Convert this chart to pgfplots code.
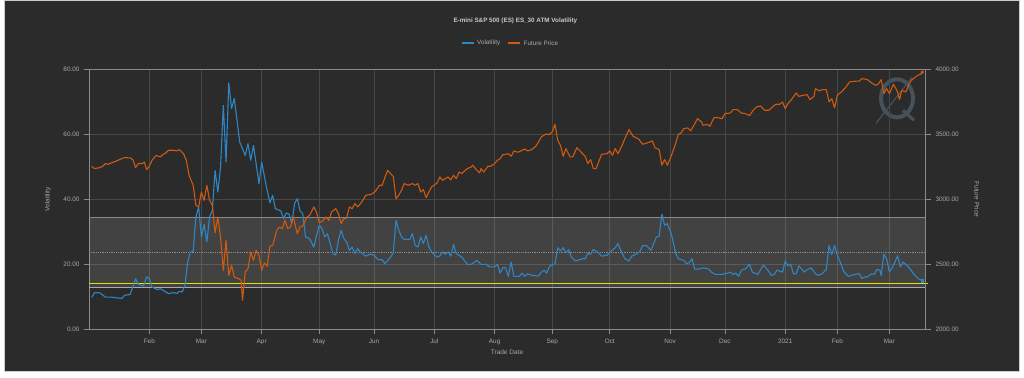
\documentclass[border=0pt]{standalone}
\usepackage{pgfplots}
\pgfplotsset{compat=1.18}
\usepackage{fontspec}
\setmainfont{Liberation Sans}
\definecolor{bgc}{HTML}{2B2B2B}
\definecolor{gridc}{HTML}{474747}
\definecolor{framec}{HTML}{8A8A8A}
\definecolor{labc}{HTML}{A8A8A8}
\definecolor{titc}{HTML}{C8C8C8}
\definecolor{volc}{HTML}{2F86C4}
\definecolor{pricec}{HTML}{D05A0E}
\definecolor{yelc}{HTML}{E2E200}
\definecolor{logoc}{HTML}{45525C}
\begin{document}
\begin{tikzpicture}
\fill[white] (0,0) rectangle (1024pt,377pt);
\fill[bgc] (4pt,6pt) rectangle (1019pt,377pt);
\draw[gray!40, line width=0.6pt] (4pt,6pt) rectangle (1019pt,377pt);
% watermark logo
\draw[logoc, line width=4pt] (897pt,279pt) ellipse (16pt and 19pt);
\draw[logoc, line width=3pt] (903pt,267pt) -- (914pt,257pt);
\draw[logoc, line width=1.2pt] (876pt,254pt) -- (912pt,300pt);
% legend
\fill[volc] (462pt,333pt) rectangle (474pt,335pt);
\node[anchor=west, inner sep=0pt, text=labc, font=\fontsize{6.3}{7}\selectfont] at (477pt,334pt) {Volatility};
\fill[pricec] (508pt,333pt) rectangle (520pt,335pt);
\node[anchor=west, inner sep=0pt, text=labc, font=\fontsize{6.3}{7}\selectfont] at (523.5pt,334pt) {Future Price};
\begin{axis}[
  at={(89pt,48pt)}, anchor=south west, scale only axis,
  width=836pt, height=260pt,
  xmin=-1, xmax=304, ymin=0, ymax=80,
  axis line style={draw=framec, line width=0.7pt},
  xtick={21,40,62,83,103,125,147,168,189,211,231,253,272,291},
  xticklabels={Feb,Mar,Apr,May,Jun,Jul,Aug,Sep,Oct,Nov,Dec,2021,Feb,Mar},
  ytick={0,20,40,60,80},
  xtick pos=bottom, ytick pos=left,
  /pgf/number format/fixed, /pgf/number format/fixed zerofill,
  /pgf/number format/precision=2, /pgf/number format/assume math mode=true,
  tick label style={font=\fontsize{6.4}{7}\selectfont, text=labc},
  yticklabel style={xshift=-1pt},
  xticklabel style={yshift=-1pt},
  grid=major, major grid style={gridc, line width=0.7pt},
  major tick length=5pt, tick align=outside, tick style={framec, line width=0.7pt},
  xlabel={Trade Date}, ylabel={Volatility},
  label style={font=\fontsize{6.5}{7}\selectfont, text=labc},
  xlabel style={at={(axis description cs:0.5,-0.088)}, anchor=center},
  ylabel style={at={(axis description cs:-0.049,0.5)}, anchor=center},
  title={\bfseries E-mini S\&P 500 (ES) ES\_30 ATM Volatility},
  title style={at={(axis description cs:0.51,1.165)}, anchor=center, font=\fontsize{6.3}{7}\selectfont, text=titc},
  clip=false,
]
\addplot[draw=none, fill=white, fill opacity=0.11] coordinates {(-1,12.9) (304,12.9) (304,34.4) (-1,34.4)} -- cycle;
\addplot[color=white!45!bgc, line width=0.8pt] coordinates {(-1,34.4) (304,34.4)};
\addplot[color=white!45!bgc, line width=0.8pt, densely dotted] coordinates {(-1,23.6) (304,23.6)};
\addplot[color=white!60!bgc, line width=0.8pt] coordinates {(-1,12.9) (304,12.9)};
\addplot[color=yelc, line width=1.1pt] coordinates {(-1,14.15) (305,14.15)};
\addplot[draw=volc, line width=1.1pt, line join=round] coordinates {
(0,9.8)(1,11.3)(3,11.2)(5,9.9)(7,9.9)(11,9.5)(12,10.5)(14,10.7)(16,15.6)(17,13.8)(19,13.4)(20,16.1)(21,15.6)(22,13.0)(24,12.2)(25,12.5)(26,12.0)(28,11.0)(30,11.3)(31,11.0)(32,11.7)(33,11.5)(34,13.5)(35,20.7)(36,23.8)(37,24.0)(38,34.6)(39,37.6)(40,28.4)(41,32.3)(42,26.9)(43,34.6)(44,36.6)(45,48.9)(46,42.2)(47,49.9)(48,68.9)(49,51.5)(50,75.8)(51,67.9)(52,71.0)(54,57.6)(56,53.5)(57,57.1)(58,52.0)(59,56.6)(60.5,47.9)(61,44.8)(62,51.5)(63.5,44.8)(65,38.9)(66,41.2)(67,37.1)(69,36.4)(70,34.1)(71,35.8)(72,35.4)(73,32.5)(74,38.7)(75,40.2)(76,36.4)(77,35.6)(78,28.4)(79.5,27.9)(81,25.3)(83,32.0)(84,31.0)(85,28.4)(86,29.4)(88,23.3)(89,22.8)(90,27.4)(91,30.5)(92,27.9)(93,26.9)(94,24.3)(95,25.3)(96,23.3)(97,24.8)(98,23.8)(100,22.5)(101.5,23.1)(103,22.8)(104.5,21.4)(106,21.4)(107,20.2)(109,22.2)(110,23.5)(111,33.5)(112,30.5)(113,28.4)(114,27.7)(116,27.6)(117,29.4)(118,25.8)(119,25.3)(120,28.4)(121,26.4)(122,28.9)(123,25.3)(124,23.8)(126,22.2)(127,22.6)(128,23.8)(129,23.1)(130,23.8)(131,22.5)(132,26.1)(133,23.3)(135,22.2)(137,20.0)(138.5,20.0)(140.5,21.2)(142,20.0)(144,20.0)(145,19.2)(147,19.2)(148,20.0)(149,17.3)(150,19.0)(151,18.9)(152,16.3)(153,20.7)(154,16.3)(156,16.3)(157,17.3)(158,16.3)(159,17.1)(160.5,16.6)(163,16.4)(164,17.6)(165,18.2)(166,17.3)(167,19.4)(169,20.2)(170,25.1)(171,24.1)(172,25.1)(173,23.5)(174,24.5)(175,22.2)(176.5,21.0)(178,21.4)(179,21.7)(180,21.7)(181,23.3)(182,23.1)(183,24.6)(185,23.5)(186,22.5)(188,22.8)(189.5,24.1)(191,25.1)(192,26.4)(193,24.3)(194.5,21.7)(196,21.0)(197,22.5)(199,23.3)(200,24.0)(201,25.8)(202.5,25.7)(204,24.3)(206,28.4)(207,28.6)(208,35.4)(209,32.0)(210,32.5)(211.5,29.2)(213,23.5)(214,21.7)(216,21.2)(217,20.2)(218,20.5)(219,21.7)(220,18.5)(222,18.6)(223,18.9)(225,18.6)(226,17.6)(227.5,16.9)(229,16.9)(230,16.9)(232,17.3)(233,17.6)(234,16.9)(235,17.3)(236,16.3)(237,18.2)(238.5,18.6)(240,20.0)(241,17.6)(243,16.9)(245,19.7)(246,18.9)(248,16.6)(249,16.9)(250,18.2)(252,17.6)(253,21.0)(254,19.5)(255,20.0)(256,17.1)(257,17.1)(258,19.5)(260,17.6)(261,18.4)(262.5,18.9)(264,17.1)(265,16.6)(266.5,17.1)(268,18.4)(269,25.8)(270,23.0)(271,25.8)(272,22.8)(273.5,19.7)(274.5,17.6)(276,16.3)(278.5,16.9)(280,17.1)(281,15.6)(282,16.1)(283,16.1)(284.5,17.1)(285.5,16.9)(286.5,18.4)(287.5,18.2)(288,16.6)(289,23.1)(290,21.7)(291,17.6)(292.5,19.7)(294,22.6)(295,19.2)(296,20.7)(298,19.2)(300,16.9)(301.5,15.6)(303,15.0)
};
\addplot[color=volc, only marks, mark=square*, mark size=1.3pt] coordinates {(303,15.0)};
\end{axis}
\begin{axis}[
  at={(89pt,48pt)}, anchor=south west, scale only axis,
  width=836pt, height=260pt,
  xmin=-1, xmax=304, ymin=2000, ymax=4000,
  axis x line=none, axis y line*=right,
  axis line style={draw=framec, line width=0.7pt},
  ytick={2000,2500,3000,3500,4000},
  /pgf/number format/fixed, /pgf/number format/fixed zerofill,
  /pgf/number format/precision=2, /pgf/number format/1000 sep={},
  /pgf/number format/assume math mode=true,
  tick label style={font=\fontsize{6.4}{7}\selectfont, text=labc},
  yticklabel style={xshift=1pt},
  major tick length=6pt, tick align=outside, tick style={framec, line width=0.7pt},
  ylabel={Future Price},
  label style={font=\fontsize{6.5}{7}\selectfont, text=labc},
  ylabel style={at={(axis description cs:1.0622,0.5)}, anchor=center, rotate=180},
  clip=false,
]
\addplot[color=pricec, line width=1.1pt, line join=round] coordinates {
(0,3254)(1,3236)(3,3244)(4,3254)(5,3275)(6,3269)(8,3287)(9,3295)(11,3313)(12,3321)(14,3318)(15,3305)(16,3244)(17,3275)(18.5,3275)(19.2,3287)(20,3228)(21,3254)(22,3300)(23.5,3338)(25,3326)(26,3346)(27,3356)(28,3377)(30,3377)(31,3372)(32,3382)(33.5,3351)(34.5,3300)(35.5,3185)(37,3108)(38,2954)(39,2941)(40,3056)(41,2992)(42,3108)(43,2992)(44,2954)(45,2741)(46,2864)(47,2710)(48,2454)(49,2685)(50,2415)(51,2492)(52,2402)(53.5,2390)(54.5,2377)(55,2223)(56,2441)(57,2467)(58,2595)(59,2531)(60,2608)(61,2569)(62,2454)(63,2510)(64,2485)(65,2638)(66,2646)(67.5,2762)(68.5,2787)(69.5,2774)(70.5,2838)(71.5,2774)(72.5,2787)(73.5,2864)(75,2736)(76,2787)(77,2795)(78.5,2864)(79.5,2877)(81,2941)(82,2903)(83,2818)(84.5,2838)(85.5,2864)(86.5,2838)(87.5,2903)(89,2928)(90,2890)(91,2813)(92,2851)(93,2856)(94,2941)(95,2928)(96,2967)(97,2941)(98.5,2979)(100,3031)(102,3038)(103.5,3062)(105,3108)(106,3108)(107,3172)(108,3223)(109,3198)(110,3177)(111,3005)(112,3031)(113,3069)(114,3121)(115.5,3108)(117,3121)(118,3108)(119,3121)(120,3056)(121,3074)(122,3013)(123,3056)(124,3095)(126,3126)(127,3172)(128,3146)(129,3159)(130,3172)(131,3149)(132,3185)(133,3159)(134,3210)(135,3198)(137,3236)(138.5,3249)(139,3262)(140.5,3223)(141.5,3203)(142,3236)(143,3210)(144.5,3254)(145.5,3254)(147,3275)(148,3300)(149,3313)(150,3344)(151,3346)(152,3351)(153,3331)(154,3372)(155.5,3362)(157,3377)(158,3387)(159,3372)(160.5,3382)(162,3408)(163,3441)(164,3479)(165.5,3500)(167,3500)(168,3518)(169,3577)(170,3454)(171,3415)(172,3331)(173,3390)(174.5,3326)(175.5,3326)(177,3397)(178.5,3364)(180,3331)(181,3275)(182,3305)(183,3236)(184,3236)(186,3346)(188,3351)(189,3372)(190,3338)(191,3390)(192,3351)(193.5,3415)(194.5,3467)(196,3536)(197.5,3485)(199.5,3464)(201,3423)(202.5,3433)(204.5,3449)(205.5,3397)(207,3382)(208,3262)(209,3305)(210,3262)(211.5,3338)(213,3428)(214,3500)(215,3510)(216,3544)(217.5,3549)(218.5,3526)(220,3582)(221,3620)(222.5,3595)(223,3569)(224.5,3577)(225.5,3562)(227,3628)(228.5,3628)(230,3620)(231,3659)(233,3664)(234,3690)(235.5,3690)(237,3664)(238.5,3659)(240,3644)(241.5,3690)(242.5,3710)(244,3718)(245.5,3685)(247,3685)(248,3703)(249.5,3731)(251,3731)(252,3749)(253,3697)(254,3736)(255.5,3774)(257,3818)(258,3792)(259.5,3800)(261,3805)(262,3767)(263.5,3792)(264,3851)(265.5,3833)(266.5,3844)(268,3844)(269,3749)(270,3774)(271,3703)(272,3800)(273.5,3826)(275,3859)(276.5,3903)(278.5,3908)(280,3910)(281,3928)(283,3921)(284.5,3895)(286,3877)(287,3887)(288,3921)(289,3813)(290,3851)(291,3813)(292.5,3885)(294,3826)(294.7,3767)(295.5,3838)(297,3826)(298,3877)(299,3915)(300.5,3941)(302,3962)(302.5,3962)(303,3978)
};
\addplot[color=pricec, only marks, mark=*, mark size=1.4pt] coordinates {(303,3978)};
\end{axis}
\end{tikzpicture}
\end{document}
